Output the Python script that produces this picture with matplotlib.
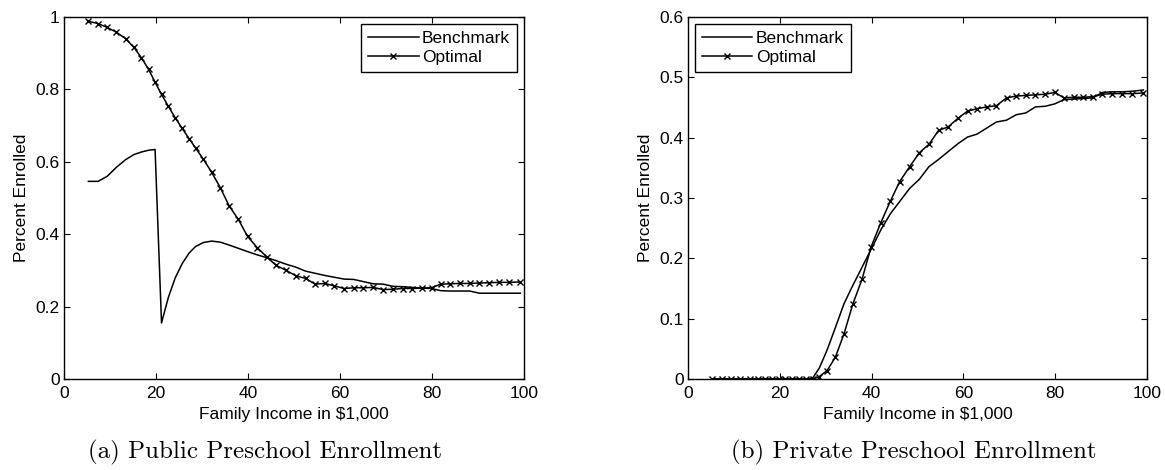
import numpy as np
import matplotlib
matplotlib.use('Agg')
import matplotlib.pyplot as plt


# family income grid (in $1,000) shared by every series
income = [5.3, 7.4, 9.4, 11.4, 13.4, 15.2, 16.8, 18.4, 19.8, 21.2,
          22.7, 24.2, 25.7, 27.2, 28.6, 30.3, 32.1, 34.0, 35.9, 37.9,
          39.9, 42.0, 44.1, 46.1, 48.3, 50.4, 52.5, 54.6, 56.7, 58.8,
          60.9, 63.0, 65.1, 67.2, 69.4, 71.5, 73.6, 75.7, 77.8, 79.9,
          81.9, 84.0, 86.1, 88.2, 90.3, 92.4, 94.6, 96.8, 99.2]

public_benchmark = [0.546, 0.546, 0.560, 0.585, 0.606, 0.620, 0.627, 0.632, 0.634, 0.155,
                    0.226, 0.280, 0.319, 0.348, 0.366, 0.377, 0.381, 0.378, 0.370, 0.361,
                    0.352, 0.343, 0.335, 0.327, 0.317, 0.309, 0.298, 0.292, 0.286, 0.281,
                    0.276, 0.275, 0.269, 0.263, 0.262, 0.256, 0.255, 0.253, 0.251, 0.250,
                    0.244, 0.243, 0.243, 0.243, 0.237, 0.237, 0.237, 0.237, 0.237]

public_optimal = [0.988, 0.982, 0.971, 0.958, 0.940, 0.916, 0.888, 0.855, 0.820, 0.786,
                  0.753, 0.721, 0.692, 0.664, 0.638, 0.607, 0.571, 0.528, 0.478, 0.441,
                  0.394, 0.363, 0.337, 0.314, 0.300, 0.285, 0.278, 0.262, 0.264, 0.257,
                  0.250, 0.252, 0.252, 0.253, 0.247, 0.248, 0.250, 0.250, 0.251, 0.252,
                  0.262, 0.263, 0.264, 0.264, 0.265, 0.266, 0.267, 0.267, 0.268]

private_benchmark = [0.0, 0.0, 0.0, 0.0, 0.0, 0.0, 0.0, 0.0, 0.0, 0.0,
                     0.0, 0.0, 0.0, 0.002, 0.018, 0.048, 0.085, 0.125, 0.155, 0.185,
                     0.215, 0.247, 0.274, 0.294, 0.316, 0.331, 0.352, 0.364, 0.377, 0.390,
                     0.401, 0.406, 0.416, 0.426, 0.429, 0.438, 0.441, 0.451, 0.452, 0.456,
                     0.463, 0.464, 0.465, 0.466, 0.475, 0.476, 0.476, 0.477, 0.479]

private_optimal = [0.0, 0.0, 0.0, 0.0, 0.0, 0.0, 0.0, 0.0, 0.0, 0.0,
                   0.0, 0.0, 0.0, 0.0, 0.004, 0.014, 0.036, 0.075, 0.124, 0.165,
                   0.219, 0.259, 0.295, 0.327, 0.352, 0.375, 0.389, 0.412, 0.418, 0.432,
                   0.444, 0.448, 0.451, 0.453, 0.466, 0.469, 0.470, 0.471, 0.472, 0.475,
                   0.466, 0.467, 0.467, 0.468, 0.472, 0.473, 0.473, 0.473, 0.474]

x_ticks = [0, 20, 40, 60, 80, 100]
x_tick_labels = ['0', '20', '40', '60', '80', '100']
public_ticks = [0, 0.2, 0.4, 0.6, 0.8, 1.0]
public_tick_labels = ['0', '0.2', '0.4', '0.6', '0.8', '1']
private_ticks = [0, 0.1, 0.2, 0.3, 0.4, 0.5, 0.6]
private_tick_labels = ['0', '0.1', '0.2', '0.3', '0.4', '0.5', '0.6']

captions = ['(a) Public Preschool Enrollment', '(b) Private Preschool Enrollment']

plt.rcParams['font.family'] = ['Liberation Sans', 'DejaVu Sans']
plt.rcParams['font.size'] = 12.5

fig = plt.figure(figsize=(11.65, 4.70), dpi=100)
ax_pub = fig.add_axes([64/1165, 1 - 379/470, 460/1165, 362/470])
ax_priv = fig.add_axes([688/1165, 1 - 379/470, 459/1165, 362/470])


def panel(ax, bench, opt, ticks, tick_labels, ymax, legend_loc):
    ax.plot(income, bench, color='black', lw=1.1, label='Benchmark')
    ax.plot(income, opt, color='black', lw=1.1, marker='x', ms=3.8, mew=1.0,
            label='Optimal')
    ax.set_xlim(0, 100)
    ax.set_ylim(0, ymax)
    ax.set_xticks(x_ticks)
    ax.set_xticklabels(x_tick_labels)
    ax.set_yticks(ticks)
    ax.set_yticklabels(tick_labels)
    ax.tick_params(direction='in', length=4, width=0.8, top=True, right=True,
                   labelsize=12.5)
    ax.tick_params(axis='x', pad=5)
    ax.tick_params(axis='y', pad=3)
    for s in ax.spines.values():
        s.set_linewidth(1.0)
    ax.set_xlabel('Family Income in $1,000', fontsize=12.5, labelpad=4)
    ax.set_ylabel('Percent Enrolled', fontsize=12.5, labelpad=5)
    leg = ax.legend(loc=legend_loc, numpoints=1, fancybox=False, framealpha=1,
                    edgecolor='black', fontsize=12.5, handlelength=2.9,
                    handletextpad=0.2, borderpad=0.4, labelspacing=0.2,
                    borderaxespad=0.4)
    leg.get_frame().set_linewidth(1.0)


panel(ax_pub, public_benchmark, public_optimal, public_ticks, public_tick_labels,
      1.0, 'upper right')
panel(ax_priv, private_benchmark, private_optimal, private_ticks,
      private_tick_labels, 0.6, 'upper left')

fig.text(265/1165, 1 - 452/470, captions[0], family='cmr10', fontsize=18,
         ha='center', va='center')
fig.text(914/1165, 1 - 452/470, captions[1], family='cmr10', fontsize=18,
         ha='center', va='center')

fig.savefig('out.png', dpi=100)
